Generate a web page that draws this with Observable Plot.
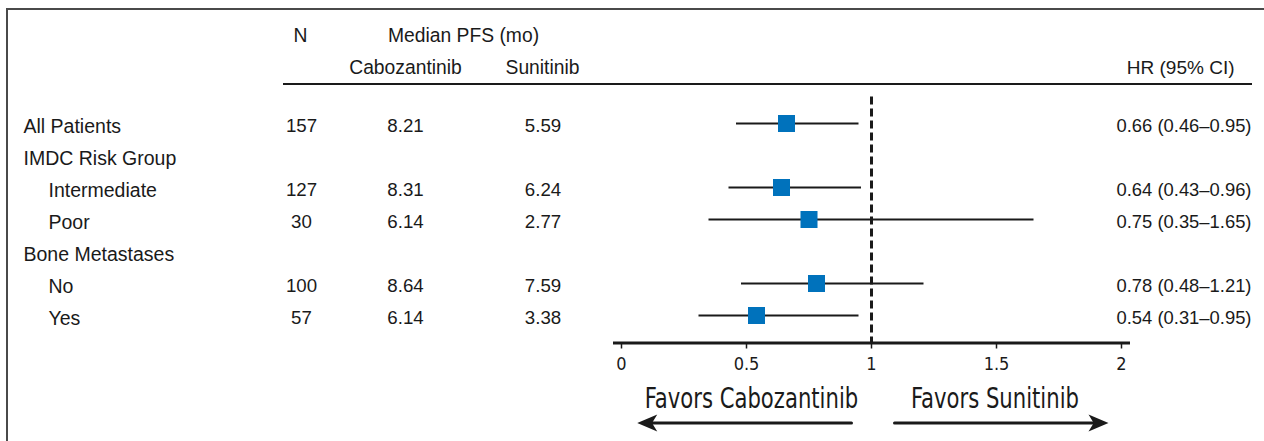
<!DOCTYPE html>
<html>
<head>
<meta charset="utf-8">
<script src="https://cdn.jsdelivr.net/npm/d3@7"></script>
<script src="https://cdn.jsdelivr.net/npm/@observablehq/plot@0.6"></script>
<style>
  html, body { margin: 0; padding: 0; background: #fff; }
  #wrap { position: relative; width: 1264px; height: 441px; overflow: hidden; }
  #border { position: absolute; left: 6px; top: 8px; right: -4px; bottom: -4px;
            border-left: 2px solid #4a4a4a; border-top: 2px solid #4a4a4a; pointer-events: none; }
  #chart { position: absolute; left: 0; top: 0; }
</style>
</head>
<body>
<div id="wrap"><div id="chart"></div><div id="border"></div></div>
<script>
// ---- data ----
const labels   = ["All Patients", "IMDC Risk Group", "Intermediate", "Poor", "Bone Metastases", "No", "Yes"];
const levels   = [0, 0, 1, 1, 0, 1, 1];
const nPatients = [157, null, 127, 30, null, 100, 57];
const medCabo  = [8.21, null, 8.31, 6.14, null, 8.64, 6.14];
const medSuni  = [5.59, null, 6.24, 2.77, null, 7.59, 3.38];
const hr       = [0.66, null, 0.64, 0.75, null, 0.78, 0.54];
const hrLo     = [0.46, null, 0.43, 0.35, null, 0.48, 0.31];
const hrHi     = [0.95, null, 0.96, 1.65, null, 1.21, 0.95];
const xTicks   = [0, 0.5, 1, 1.5, 2];
const nullHR   = 1;
const favorLabels = ["Favors Cabozantinib", "Favors Sunitinib"];
const favorTextAt = [0.52, 1.494];
const favorFrom   = [0.92, 1.092];
const favorTo     = [0.063, 1.948];
const headers = {n: "N", median: "Median PFS (mo)", cabo: "Cabozantinib", suni: "Sunitinib", hr: "HR (95% CI)"};

// ---- tables built from arrays ----
const rows = labels.map((label, i) => ({
  label, level: levels[i], n: nPatients[i], cabo: medCabo[i], suni: medSuni[i],
  hr: hr[i], lo: hrLo[i], hi: hrHi[i]
}));
const dataRows = rows.filter(d => d.hr != null);
const favors = favorLabels.map((label, i) => ({label, at: favorTextAt[i], from: favorFrom[i], to: favorTo[i]}));
const f2 = d3.format(".2f");

const INK = "#1a1a1a";
const BLUE = "#0072BC";
const NARROW = "'Liberation Sans Narrow', 'Arial Narrow', 'DejaVu Sans Condensed', sans-serif";
const AX = () => "__axis";
const NUM = 18.7;   // numeric font size
const LAB = 19.5;   // label font size
const MARK_DY = -3; // squares / CI lines sit slightly above the text line

// filled, notched arrow head pointing to +x, tip at origin
const arrowHead = {
  draw(ctx, size) {
    const r = Math.sqrt(size / Math.PI);
    const L = 2 * r, W = 1.7 * r;
    ctx.moveTo(0, 0);
    ctx.lineTo(-L, -W / 2);
    ctx.lineTo(-0.74 * L, 0);
    ctx.lineTo(-L, W / 2);
    ctx.closePath();
  }
};

const chart = Plot.plot({
  width: 1264,
  height: 441,
  margin: 0,
  style: {fontFamily: "'Liberation Sans', Arial, Helvetica, sans-serif", fontSize: "19px", color: INK, background: "transparent"},
  x: {domain: [xTicks[0], xTicks[xTicks.length - 1]], range: [621, 1121], axis: null},
  y: {type: "point", domain: ["__line", ...labels, "__axis"], range: [93.5, 349.5], padding: 0, axis: null},
  marks: [
    // header texts
    Plot.text([headers.n], {text: d => d, frameAnchor: "top-left", dx: 300, dy: 35.5, textAnchor: "middle", lineAnchor: "middle", fontSize: 19.3, fill: INK}),
    Plot.text([headers.median], {text: d => d, frameAnchor: "top-left", dx: 463, dy: 35.5, textAnchor: "middle", lineAnchor: "middle", fontSize: 19.3, fill: INK}),
    Plot.text([headers.cabo], {text: d => d, frameAnchor: "top-left", dx: 405, dy: 67.5, textAnchor: "middle", lineAnchor: "middle", fontSize: 19.3, fill: INK}),
    Plot.text([headers.suni], {text: d => d, frameAnchor: "top-left", dx: 542, dy: 67.5, textAnchor: "middle", lineAnchor: "middle", fontSize: 19.3, fill: INK}),
    Plot.text([headers.hr], {text: d => d, frameAnchor: "top-left", dx: 1234, dy: 67.5, textAnchor: "end", lineAnchor: "middle", fontSize: 19, fill: INK}),
    // header underline
    Plot.ruleY(["__line"], {y: d => d, insetLeft: 283, insetRight: 12, dy: -10.5, stroke: INK, strokeWidth: 2}),
    // row labels
    Plot.text(rows.filter(d => d.level === 0), {y: "label", text: "label", frameAnchor: "left", dx: 23, textAnchor: "start", fontSize: LAB, fill: INK}),
    Plot.text(rows.filter(d => d.level === 1), {y: "label", text: "label", frameAnchor: "left", dx: 48, textAnchor: "start", fontSize: LAB, fill: INK}),
    // columns
    Plot.text(dataRows, {y: "label", text: d => String(d.n), frameAnchor: "left", dx: 301, textAnchor: "middle", fontSize: NUM, fill: INK}),
    Plot.text(dataRows, {y: "label", text: d => f2(d.cabo), frameAnchor: "left", dx: 405, textAnchor: "middle", fontSize: NUM, fill: INK}),
    Plot.text(dataRows, {y: "label", text: d => f2(d.suni), frameAnchor: "left", dx: 542.5, textAnchor: "middle", fontSize: NUM, fill: INK}),
    Plot.text(dataRows, {y: "label", text: d => `${f2(d.hr)} (${f2(d.lo)}\u2013${f2(d.hi)})`, frameAnchor: "left", dx: 1251, textAnchor: "end", fontSize: 18.4, fill: INK}),
    // null line
    Plot.ruleX([nullHR], {x: d => d, y1: () => labels[0], y2: AX, insetTop: -29.5, insetBottom: 6.5, stroke: INK, strokeWidth: 3, strokeDasharray: "8,4"}),
    // CIs
    Plot.ruleY(dataRows, {y: "label", x1: "lo", x2: "hi", dy: MARK_DY, stroke: INK, strokeWidth: 2}),
    // point estimates
    Plot.dot(dataRows, {y: "label", x: "hr", dy: MARK_DY, symbol: "square", r: 9.6, fill: BLUE, stroke: null}),
    // axis
    Plot.ruleY(["__axis"], {y: d => d, x1: () => xTicks[0], x2: () => xTicks[xTicks.length - 1], dy: -7.5, insetLeft: -8, insetRight: -9, stroke: INK, strokeWidth: 3}),
    Plot.ruleX(xTicks, {x: d => d, y1: AX, y2: AX, dy: -7.5, insetBottom: -6, stroke: INK, strokeWidth: 1.5}),
    Plot.text(xTicks, {x: d => d, y: AX, text: d => String(d), dy: 14, fontFamily: NARROW, fontSize: 18, fill: INK}),
    // favors annotations
    Plot.text(favors, {x: "at", y: AX, text: "label", dy: 48.5, fontFamily: NARROW, fontSize: 28, fill: INK}),
    Plot.arrow(favors, {x1: "from", x2: "to", y1: AX, y2: AX, dy: 72.5, stroke: INK, strokeWidth: 3, headLength: 0, insetEnd: 6}),
    Plot.dot(favors, {x: "to", y: AX, dy: 72.5, symbol: arrowHead, r: 10, rotate: d => (d.to < d.from ? 180 : 0), fill: INK, stroke: null})
  ]
});
document.getElementById("chart").appendChild(chart);

// condense the annotation type to mimic the narrow face
d3.select(chart).selectAll("text").each(function () {
  const t = this.textContent;
  if (favorLabels.includes(t)) {
    const w = this.getComputedTextLength();
    d3.select(this).attr("textLength", w * 0.84).attr("lengthAdjust", "spacingAndGlyphs");
  }
});
</script>
</body>
</html>
